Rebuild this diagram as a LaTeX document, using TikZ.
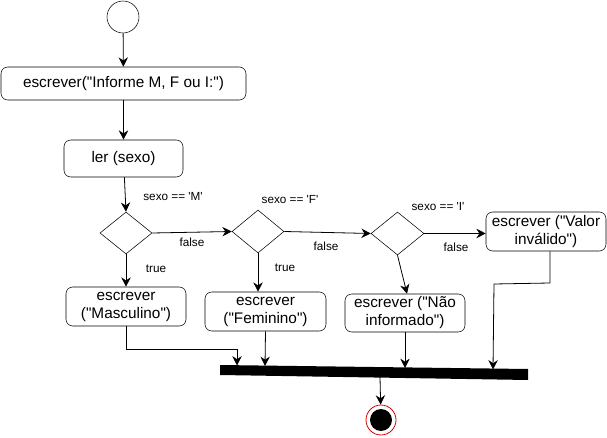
\documentclass[tikz,border=0pt]{standalone}
\usepackage{fontspec}
\setmainfont{Liberation Sans}[Ligatures=TeXOff]
\usetikzlibrary{shapes.geometric,arrows.meta}
\begin{document}
\begin{tikzpicture}[x=0.75pt,y=-0.75pt,
  box/.style={draw,rounded corners=5pt,align=center,font=\fontsize{11.5}{13.5}\selectfont,inner sep=0pt},
  dec/.style={draw,diamond,inner sep=0pt},
  lbl/.style={font=\fontsize{8.8}{10}\selectfont},
  arr/.style={-{Stealth[length=7pt,width=7pt]},line width=0.6pt},
  ln/.style={line width=0.6pt}]
\useasboundingbox (0,0) rectangle (607,438);
\node[draw,circle,minimum size=24pt,inner sep=0pt] (start) at (123,17) {};
\node[box,minimum width=183.75pt,minimum height=24.75pt] (b1) at (123.5,83.5) {escrever("Informe M, F ou I:")};
\node[box,minimum width=89.25pt,minimum height=27.75pt] (b2) at (123.5,158.5) {ler (sexo)};
\node[dec,minimum width=39pt,minimum height=31.5pt] (d1) at (126,233) {};
\node[dec,minimum width=39pt,minimum height=32.25pt] (d2) at (258,231.5) {};
\node[dec,minimum width=39.75pt,minimum height=32.25pt] (d3) at (397.5,233.5) {};
\node[box,minimum width=90pt,minimum height=29.25pt] (bm) at (126,306.5) {escrever\\("Masculino")};
\node[box,minimum width=90.75pt,minimum height=29.25pt] (bf) at (265.5,311.5) {escrever\\("Feminino")};
\node[box,minimum width=90pt,minimum height=28.5pt] (bn) at (405,313) {escrever ("Não\\informado")};
\node[box,minimum width=90pt,minimum height=29.25pt] (bv) at (546,231.5) {escrever ("Valor\\inválido")};
\fill (220,365) -- (528,369) -- (528,380) -- (220,375) -- cycle;
\coordinate (barM) at (237,365.5);
\coordinate (barF) at (265,366);
\coordinate (barN) at (405,368);
\coordinate (barV) at (493,369.5);
\coordinate (barO) at (380,377);
\node[circle,draw=red!85!black,line width=0.6pt,minimum size=22.5pt,inner sep=0pt] (end) at (381,420) {};
\node[circle,fill=black,minimum size=16.5pt,inner sep=0pt] at (end) {};
\draw[arr] (start) -- (b1);
\draw[arr] (b1) -- (b2);
\draw[arr] (b2) -- (d1.north);
\draw[arr] (d1.south) -- (bm);
\draw[arr] (d1.east) -- (d2.west);
\draw[arr] (d2.south) -- (d2.south |- bf.north);
\draw[arr] (d2.east) -- (d3.west);
\draw[arr] (d3.south) -- ([xshift=1.5pt]bn.north);
\draw[arr] (d3.east) -- (bv.west |- d3.east);
\draw[arr] (bm.south) |- (237,349) -- (barM);
\draw[arr] (bf.south) -- (barF);
\draw[arr] (bn.south) -- (barN);
\draw[arr] ([xshift=3pt]bv.south) -- (550,283) -- (494,284) -- (barV);
\draw[arr] (barO) -- (end);
\node[lbl] (lm) at (173,197) {sexo == 'M'};
\node[lbl] (lf) at (290,200) {sexo == 'F'};
\node[lbl] (li) at (438,207) {sexo == 'I'};
\node[lbl] (t1) at (156,269) {true};
\node[lbl] (t2) at (285,268) {true};
\node[lbl] (f1) at (192,242) {false};
\node[lbl] (f2) at (326,246) {false};
\node[lbl] (f3) at (456,247) {false};
\end{tikzpicture}
\end{document}
